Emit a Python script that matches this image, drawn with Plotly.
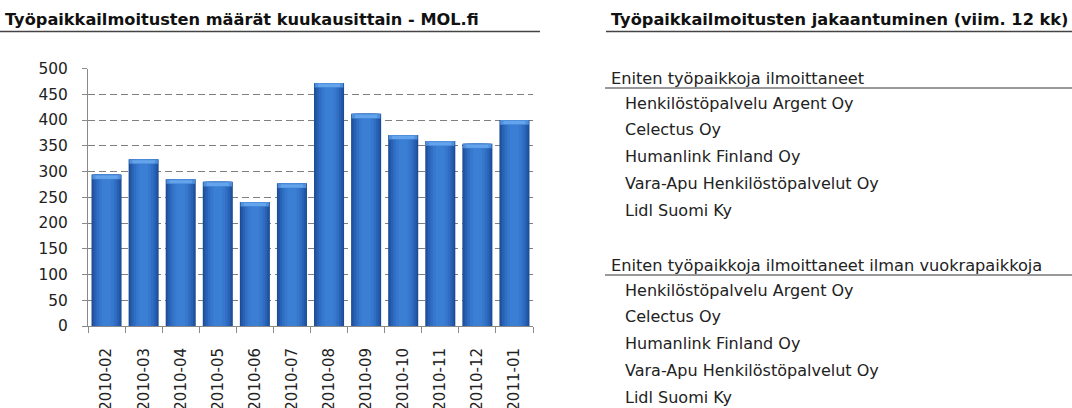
import plotly.graph_objects as go

# ---- data ----
months = ["2010-02", "2010-03", "2010-04", "2010-05", "2010-06", "2010-07",
          "2010-08", "2010-09", "2010-10", "2010-11", "2010-12", "2011-01"]
counts = [294, 324, 285, 280, 241, 277, 472, 412, 371, 359, 354, 400]
y_ticks = [0, 50, 100, 150, 200, 250, 300, 350, 400, 450, 500]

left_title = "Työpaikkailmoitusten määrät kuukausittain - MOL.fi"
right_title = "Työpaikkailmoitusten jakaantuminen (viim. 12 kk)"
group_headers = ["Eniten työpaikkoja ilmoittaneet",
                 "Eniten työpaikkoja ilmoittaneet ilman vuokrapaikkoja"]
group_items = [
    ["Henkilöstöpalvelu Argent Oy", "Celectus Oy", "Humanlink Finland Oy",
     "Vara-Apu Henkilöstöpalvelut Oy", "Lidl Suomi Ky"],
    ["Henkilöstöpalvelu Argent Oy", "Celectus Oy", "Humanlink Finland Oy",
     "Vara-Apu Henkilöstöpalvelut Oy", "Lidl Suomi Ky"],
]

W, H = 1072, 408
FONT = "DejaVu Sans"

def px(x):
    return x / W

def py(y):
    return 1 - y / H

fig = go.Figure()

# cylinder-like shading via overlaid bars of decreasing width
layers = [(0.81, "#1b4c93"), (0.75, "#2256a4"), (0.66, "#2962b5"),
          (0.54, "#306ec4"), (0.40, "#3678cd"), (0.24, "#3b7fd4")]
for w, c in layers:
    fig.add_trace(go.Bar(x=months, y=counts, width=w, marker_color=c,
                         marker_line_width=0, hoverinfo="skip", showlegend=False))

# lighter top cap
cap = 9
fig.add_trace(go.Bar(x=months, y=[cap] * len(counts), base=[v - cap for v in counts],
                     width=0.77, marker_color="#4f8fdc", marker_line_width=0,
                     hoverinfo="skip", showlegend=False))
fig.add_trace(go.Bar(x=months, y=[cap - 3] * len(counts), base=[v - cap + 1 for v in counts],
                     width=0.6, marker_color="#64a4ec", marker_line_width=0,
                     hoverinfo="skip", showlegend=False))

fig.update_layout(
    width=W, height=H, barmode="overlay",
    margin=dict(l=0, r=0, t=0, b=0),
    paper_bgcolor="white", plot_bgcolor="white",
    font=dict(family=FONT, size=15, color="#222"),
    xaxis=dict(domain=[px(88), px(533)], type="category",
               tickangle=-90, ticks="outside", ticklen=6, tickcolor="#8a8a8a",
               tickson="boundaries", showline=True, linecolor="#8a8a8a",
               showgrid=False, automargin=False, ticklabelstandoff=15,
               tickfont=dict(family=FONT, size=15, color="#222")),
    yaxis=dict(domain=[py(326), py(68.5)], range=[0, 500],
               tickvals=y_ticks, ticks="outside", ticklen=5, tickcolor="#8a8a8a",
               showline=True, linecolor="#8a8a8a", showgrid=True,
               gridcolor="#808080", griddash="7px,4px", gridwidth=1,
               zeroline=False, automargin=False, ticklabelstandoff=11,
               tickfont=dict(family=FONT, size=15.4, color="#222")),
)

annotations = []
shapes = []

TX = -2  # annotation padding compensation

# titles
annotations.append(dict(text="<b>" + left_title + "</b>", x=px(5 + TX), y=py(19),
                        xref="paper", yref="paper", xanchor="left", yanchor="middle",
                        showarrow=False, font=dict(family=FONT, size=16.2, color="#111")))
annotations.append(dict(text="<b>" + right_title + "</b>", x=px(611 + TX), y=py(19),
                        xref="paper", yref="paper", xanchor="left", yanchor="middle",
                        showarrow=False, font=dict(family=FONT, size=16.2, color="#111")))
shapes.append(dict(type="line", xref="paper", yref="paper", x0=px(0), x1=px(540),
                   y0=py(31.5), y1=py(31.5), line=dict(color="#444", width=1.5)))
shapes.append(dict(type="line", xref="paper", yref="paper", x0=px(606), x1=px(1072),
                   y0=py(31.5), y1=py(31.5), line=dict(color="#444", width=1.5)))

# right-side lists
header_y = [78, 265]
for g, (hdr, items) in enumerate(zip(group_headers, group_items)):
    hy = header_y[g]
    annotations.append(dict(text=hdr, x=px(611 + TX), y=py(hy), xref="paper", yref="paper",
                            xanchor="left", yanchor="middle", showarrow=False,
                            font=dict(family=FONT, size=16.2, color="#222")))
    shapes.append(dict(type="line", xref="paper", yref="paper", x0=px(605), x1=px(1072),
                       y0=py(hy + 10), y1=py(hy + 10), line=dict(color="#333", width=1)))
    for i, name in enumerate(items):
        annotations.append(dict(text=name, x=px(625 + TX), y=py(hy + 25 + 26.8 * i),
                                xref="paper", yref="paper", xanchor="left", yanchor="middle",
                                showarrow=False, font=dict(family=FONT, size=16, color="#222")))

fig.update_layout(annotations=annotations, shapes=shapes)
fig.write_html("out.html", config={"displayModeBar": False},
               post_script="document.body.style.margin='0';")
